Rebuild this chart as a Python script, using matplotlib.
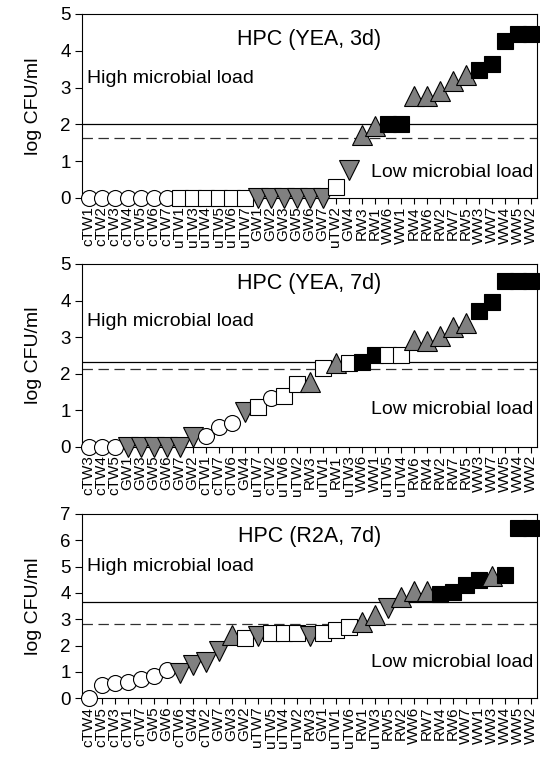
import matplotlib
matplotlib.use("Agg")
import matplotlib.pyplot as plt

plt.rcParams['font.family'] = ['Liberation Sans', 'DejaVu Sans']
plt.rcParams['lines.scale_dashes'] = False

# ---------------- data ----------------
titles = ['HPC (YEA, 3d)', 'HPC (YEA, 7d)', 'HPC (R2A, 7d)']

labels1 = ['cTW1', 'cTW2', 'cTW3', 'cTW4', 'cTW5', 'cTW6', 'cTW7', 'uTW1', 'uTW3', 'uTW4',
           'uTW5', 'uTW6', 'uTW7', 'GW1', 'GW2', 'GW3', 'GW5', 'GW6', 'GW7', 'uTW2',
           'GW4', 'RW3', 'RW1', 'WW6', 'WW1', 'RW4', 'RW6', 'RW2', 'RW7', 'RW5',
           'WW3', 'WW7', 'WW4', 'WW5', 'WW2']
groups1 = ['c', 'c', 'c', 'c', 'c', 'c', 'c', 'u', 'u', 'u',
           'u', 'u', 'u', 'G', 'G', 'G', 'G', 'G', 'G', 'u',
           'G', 'R', 'R', 'W', 'W', 'R', 'R', 'R', 'R', 'R',
           'W', 'W', 'W', 'W', 'W']
values1 = [0, 0, 0, 0, 0, 0, 0, 0, 0, 0,
           0, 0, 0, 0, 0, 0, 0, 0, 0, 0.3,
           0.77, 1.72, 1.97, 2.0, 2.0, 2.76, 2.77, 2.9, 3.18, 3.35,
           3.48, 3.63, 4.26, 4.45, 4.45]
high1, low1 = 2.0, 1.62

labels2 = ['cTW3', 'cTW4', 'cTW5', 'GW1', 'GW3', 'GW5', 'GW6', 'GW7', 'GW2', 'cTW1',
           'cTW7', 'cTW6', 'GW4', 'uTW7', 'cTW2', 'uTW6', 'uTW2', 'RW3', 'uTW1', 'RW1',
           'uTW3', 'WW6', 'WW1', 'uTW5', 'uTW4', 'RW6', 'RW4', 'RW2', 'RW7', 'RW5',
           'WW3', 'WW7', 'WW5', 'WW4', 'WW2']
groups2 = ['c', 'c', 'c', 'G', 'G', 'G', 'G', 'G', 'G', 'c',
           'c', 'c', 'G', 'u', 'c', 'u', 'u', 'R', 'u', 'R',
           'u', 'W', 'W', 'u', 'u', 'R', 'R', 'R', 'R', 'R',
           'W', 'W', 'W', 'W', 'W']
values2 = [0, 0, 0, 0, 0, 0, 0, 0, 0.27, 0.3,
           0.55, 0.64, 0.96, 1.1, 1.32, 1.4, 1.72, 1.77, 2.15, 2.28,
           2.3, 2.33, 2.51, 2.51, 2.51, 2.92, 2.9, 3.02, 3.28, 3.38,
           3.71, 3.95, 4.54, 4.54, 4.54]
high2, low2 = 2.31, 2.14

labels3 = ['cTW4', 'cTW5', 'cTW3', 'cTW1', 'cTW7', 'GW5', 'GW6', 'cTW6', 'GW4', 'cTW2',
           'GW7', 'GW3', 'GW2', 'uTW7', 'uTW5', 'uTW4', 'uTW2', 'RW3', 'GW1', 'uTW1',
           'uTW6', 'RW1', 'uTW3', 'RW5', 'RW2', 'WW6', 'RW7', 'RW4', 'RW6', 'WW7',
           'WW1', 'WW3', 'WW4', 'WW5', 'WW2']
groups3 = ['c', 'c', 'c', 'c', 'c', 'c', 'c', 'G', 'G', 'G',
           'G', 'R', 'u', 'G', 'u', 'u', 'u', 'G', 'u', 'u',
           'u', 'R', 'R', 'G', 'R', 'R', 'R', 'W', 'W', 'W',
           'W', 'R', 'W', 'W', 'W']
values3 = [0, 0.51, 0.58, 0.61, 0.72, 0.85, 1.08, 0.95, 1.25, 1.39,
           1.78, 2.4, 2.28, 2.38, 2.47, 2.47, 2.47, 2.38, 2.47, 2.6,
           2.72, 2.91, 3.16, 3.42, 3.86, 4.06, 4.06, 3.96, 4.05, 4.3,
           4.49, 4.65, 4.68, 6.46, 6.46]
high3, low3 = 3.67, 2.82

ymax = [5, 5, 7]

# ---------------- styles ----------------
style = {
    'c': dict(marker='o', mfc='white', ms=11.5),
    'u': dict(marker='s', mfc='white', ms=11.5),
    'G': dict(marker='v', mfc='#808080', ms=15),
    'R': dict(marker='^', mfc='#808080', ms=15),
    'W': dict(marker='s', mfc='black', ms=11.5),
}

fig = plt.figure(figsize=(5.40, 7.57), dpi=100)
W, H = 540, 757
left_px, right_px = 82, 537
panels_px = [(14, 198), (264, 446.7), (514, 698.3)]
title_y = [0.86, 0.894, 0.877]
high_y = [0.65, 0.684, 0.714]
low_y = [0.1375, 0.205, 0.193]

data = [(labels1, groups1, values1, high1, low1),
        (labels2, groups2, values2, high2, low2),
        (labels3, groups3, values3, high3, low3)]

for k, (labs, grps, vals, hi, lo) in enumerate(data):
    top, bot = panels_px[k]
    ax = fig.add_axes([left_px / W, 1 - bot / H, (right_px - left_px) / W, (bot - top) / H])
    x = list(range(1, len(labs) + 1))
    ax.axhline(hi, color='black', lw=0.9, zorder=1)
    ax.axhline(lo, color='#303030', lw=0.9, ls=(0, (7.5, 4)), zorder=1)
    for xi, g, v in zip(x, grps, vals):
        s = style[g]
        ax.plot([xi], [v], linestyle='none', marker=s['marker'], markersize=s['ms'],
                markerfacecolor=s['mfc'], markeredgecolor='black', markeredgewidth=0.8,
                clip_on=False, zorder=3)
    ax.set_xlim(0.5, len(labs) + 0.5)
    ax.set_ylim(0, ymax[k])
    ax.set_yticks(range(0, ymax[k] + 1))
    ax.set_xticks(x)
    ax.set_xticklabels(labs, rotation=90, fontsize=11)
    ax.tick_params(axis='y', labelsize=13.5, length=5, width=0.8, direction='out', pad=3)
    ax.tick_params(axis='x', length=4, width=0.8, direction='out', pad=2)
    for sp in ax.spines.values():
        sp.set_linewidth(0.8)
    ax.text(0.5, title_y[k], titles[k], transform=ax.transAxes, ha='center', va='center',
            fontsize=15.5)
    ax.text(0.01, high_y[k], 'High microbial load', transform=ax.transAxes, ha='left',
            va='center', fontsize=14)
    ax.text(0.991, low_y[k], 'Low microbial load', transform=ax.transAxes, ha='right',
            va='center', fontsize=14)
    fig.text(33 / W, 1 - ((top + bot) / 2) / H, 'log CFU/ml', rotation=90,
             ha='center', va='center', fontsize=14)

fig.savefig('out.png', dpi=100)
